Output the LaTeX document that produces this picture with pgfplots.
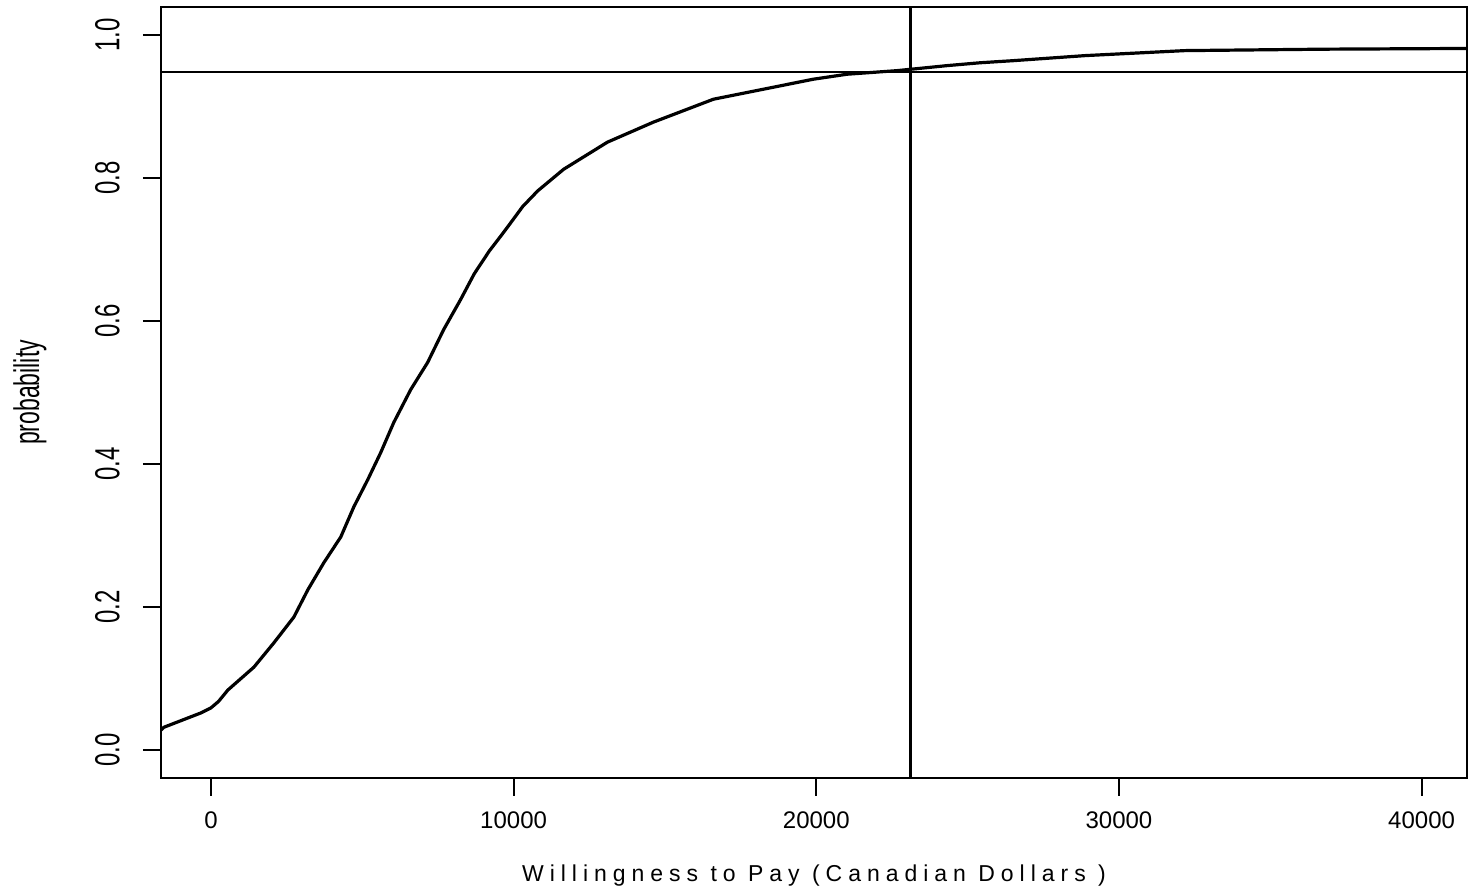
\documentclass[border=0pt]{standalone}
\usepackage{fontspec}
\setmainfont{Liberation Sans}
\usepackage{pgfplots}
\pgfplotsset{compat=1.18}
\usetikzlibrary{calc}

\pgfplotstableread{
x      p
-1650  0.028
-1550  0.032
-330   0.052
0      0.059
250    0.068
560    0.084
1420   0.116
2080   0.150
2740   0.186
3200   0.224
3730   0.262
4290   0.298
4720   0.340
5180   0.378
5610   0.416
6040   0.458
6600   0.504
7160   0.542
7690   0.588
8250   0.630
8700   0.666
9200   0.698
9600   0.720
9900   0.737
10300  0.760
10800  0.782
11650  0.812
13100  0.850
14620  0.878
16600  0.910
18250  0.924
19900  0.938
21020  0.945
22670  0.950
24320  0.957
25410  0.961
26530  0.964
28880  0.971
32180  0.978
36770  0.980
41500  0.981
}\wtp

\begin{document}
\begin{tikzpicture}
\begin{axis}[
    scale only axis,
    width=653pt, height=385.5pt,
    xmin=-1650, xmax=41500,
    ymin=-0.039, ymax=1.039,
    axis line style={line width=1.2pt},
    xtick align=outside, ytick align=outside,
    xtick pos=bottom, ytick pos=left,
    major tick length=9pt,
    every tick/.style={black, line width=1pt},
    xtick={0,10000,20000,30000,40000},
    ytick={0,0.2,0.4,0.6,0.8,1.0},
    scaled x ticks=false, scaled y ticks=false,
    /pgf/number format/assume math mode=true,
    xticklabel style={font=\fontsize{12}{14}\selectfont, yshift=-4.5pt, /pgf/number format/1000 sep={}},
    yticklabel style={font=\fontsize{12}{14}\selectfont, xshift=-6.5pt, rotate=90, yscale=1.45, anchor=south,
        /pgf/number format/.cd, fixed, fixed zerofill, precision=1},
    xlabel={\addfontfeature{LetterSpace=26}Willingness to Pay (Canadian Dollars )},
    xlabel style={font=\fontsize{11.5}{13}\selectfont, at={(axis description cs:0.5,0)}, anchor=center, yshift=-49pt},
    ylabel={probability},
    ylabel style={font=\fontsize{11.5}{13}\selectfont, at={(axis description cs:-0.1003,0.5)}, anchor=center, yscale=1.55},
]
\addplot[black, line width=1.6pt] table[x=x, y=p] {\wtp};
\addplot[black, line width=1pt] coordinates {(-1650,0.948) (41500,0.948)};
\addplot[black, line width=1.4pt] coordinates {(23100,-0.039) (23100,1.039)};
\end{axis}
\pgfresetboundingbox
\path ($(current axis.south west)+(-80.5pt,-54pt)$) rectangle ($(current axis.north east)+(2pt,3.5pt)$);
\end{tikzpicture}
\end{document}
